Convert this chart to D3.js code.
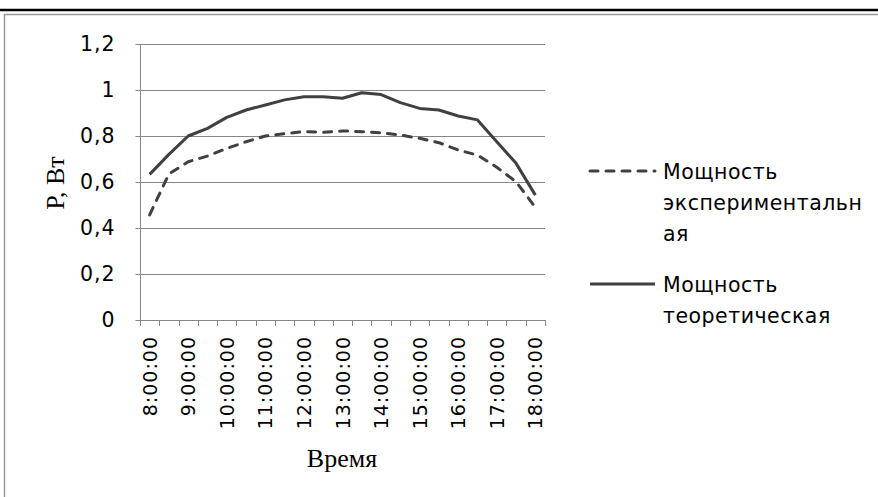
<!DOCTYPE html>
<html><head><meta charset="utf-8">
<script src="https://cdn.jsdelivr.net/npm/d3@7"></script>
<style>body{margin:0;background:#fff}svg{display:block}</style>
</head><body>
<svg id="c" width="878" height="497"></svg>
<script>
const categories = ["8:00:00","8:30:00","9:00:00","9:30:00","10:00:00","10:30:00","11:00:00","11:30:00","12:00:00","12:30:00","13:00:00","13:30:00","14:00:00","14:30:00","15:00:00","15:30:00","16:00:00","16:30:00","17:00:00","17:30:00","18:00:00"];
const experimental = [0.457,0.635,0.688,0.713,0.746,0.775,0.80,0.81,0.819,0.816,0.822,0.819,0.814,0.804,0.79,0.771,0.739,0.717,0.664,0.601,0.49];
const theoretical = [0.633,0.72,0.80,0.833,0.881,0.913,0.935,0.957,0.971,0.971,0.964,0.988,0.98,0.945,0.920,0.913,0.887,0.87,0.775,0.681,0.543];
const yTicks = [0,0.2,0.4,0.6,0.8,1,1.2];
const yTickLabels = ["0","0,2","0,4","0,6","0,8","1","1,2"];
const xTickLabels = ["8:00:00","9:00:00","10:00:00","11:00:00","12:00:00","13:00:00","14:00:00","15:00:00","16:00:00","17:00:00","18:00:00"];
const seriesNames = [["Мощность","экспериментальн","ая"],["Мощность","теоретическая"]];

const svg = d3.select("#c");
const lineCol = "#404040", gridCol = "#868686";
const sans = "'DejaVu Sans', sans-serif", serif = "'Liberation Serif', 'Times New Roman', serif";

// page decorations
svg.append("line").attr("x1",0).attr("x2",878).attr("y1",10).attr("y2",10).attr("stroke","#000").attr("stroke-width",2.5);
svg.append("path").attr("d","M4.5,497V14.5H878").attr("fill","none").attr("stroke","#999").attr("stroke-width",1.5);

const x = d3.scaleBand().domain(categories).range([140,545]).padding(0);
const y = d3.scaleLinear().domain([0,1.2]).range([320,44]);
const cx = c => x(c) + x.bandwidth()/2;

// gridlines
svg.append("g").selectAll("line").data(yTicks.slice(1)).join("line")
  .attr("x1",140).attr("x2",545).attr("y1",d=>Math.round(y(d))+0.5).attr("y2",d=>Math.round(y(d))+0.5)
  .attr("stroke",gridCol).attr("stroke-width",1);

// y axis
const ya = svg.append("g").attr("transform","translate(140.5,0)")
  .call(d3.axisLeft(y).tickValues(yTicks).tickSize(5).tickPadding(20).tickFormat((d,i)=>yTickLabels[i]));
ya.select(".domain").attr("stroke",gridCol).attr("d","M-0,"+y(1.2)+"V"+y(0));
ya.selectAll(".tick line").attr("stroke",gridCol);
ya.selectAll(".tick text").attr("font-family",sans).attr("font-size",20.5).attr("letter-spacing",1).attr("fill","#000");

// x axis
svg.append("line").attr("x1",140).attr("x2",545).attr("y1",320.5).attr("y2",320.5).attr("stroke",gridCol);
const bounds = categories.map(c=>x(c)).concat([x.range()[1]]);
svg.append("g").selectAll("line").data(bounds).join("line")
  .attr("x1",d=>Math.round(d)+0.5).attr("x2",d=>Math.round(d)+0.5).attr("y1",320).attr("y2",326)
  .attr("stroke",gridCol);
svg.append("g").selectAll("text").data(xTickLabels).join("text")
  .attr("transform",d=>`translate(${cx(d)+7},336) rotate(-90)`)
  .attr("text-anchor","end").attr("font-family",sans).attr("font-size",19).attr("letter-spacing",1).text(d=>d);

// lines
const line = d3.line().x((d,i)=>cx(categories[i])).y(d=>y(d));
svg.append("path").datum(theoretical).attr("d",line).attr("fill","none").attr("stroke",lineCol).attr("stroke-width",3).attr("stroke-linejoin","round");
svg.append("path").datum(experimental).attr("d",line).attr("fill","none").attr("stroke",lineCol).attr("stroke-width",3).attr("stroke-dasharray","8,8").attr("stroke-linecap","round").attr("stroke-linejoin","round");

// axis titles
svg.append("text").attr("transform","translate(64,183) rotate(-90)").attr("text-anchor","middle")
  .attr("font-family",serif).attr("font-size",26).text("P, Вт");
svg.append("text").attr("x",342).attr("y",467).attr("text-anchor","middle")
  .attr("font-family",serif).attr("font-size",26).text("Время");

// legend
const leg = [{y:171,dash:"8,8",lines:seriesNames[0],base:179},{y:284,dash:null,lines:seriesNames[1],base:292}];
leg.forEach(l=>{
  const ln = svg.append("line").attr("x1",590).attr("x2",655).attr("y1",l.y).attr("y2",l.y)
    .attr("stroke",lineCol).attr("stroke-width",3);
  if(l.dash) ln.attr("stroke-dasharray",l.dash).attr("stroke-linecap","round");
  const t = svg.append("text").attr("font-family",sans).attr("font-size",20.5).attr("letter-spacing",0.5);
  l.lines.forEach((s,i)=>t.append("tspan").attr("x",663).attr("y",l.base+i*31).text(s));
});
</script>
</body></html>
